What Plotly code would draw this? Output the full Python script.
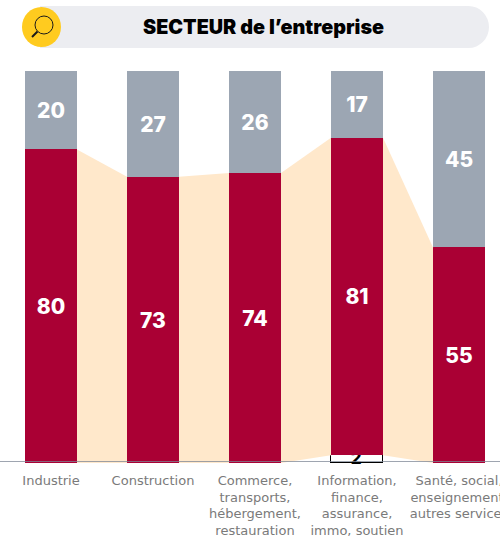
import plotly.graph_objects as go

categories = ["Industrie", "Construction", "Commerce,<br>transports,<br>hébergement,<br>restauration",
              "Information,<br>finance,<br>assurance,<br>immo, soutien", "Santé, social,<br>enseignement,<br>autres services"]
base_values = [0, 0, 0, 2, 0]
red_values = [80, 73, 74, 81, 55]
grey_values = [20, 27, 26, 17, 45]
title_text = "SECTEUR de l’entreprise"

RED = "#AA0034"; GREY = "#9CA6B3"; BAND = "#FFE8CB"
FONT = "Inter"
bw = 52 / 102
xs = list(range(len(categories)))
tops = [b + r for b, r in zip(base_values, red_values)]

white_font = dict(family=FONT, size=21, color="white", weight=800)
bar_text = dict(textposition="inside", insidetextanchor="middle", textangle=0, constraintext="none", cliponaxis=False)

fig = go.Figure()
for i in xs[:-1]:
    fig.add_trace(go.Scatter(
        x=[i + bw / 2, i + 1 - bw / 2, i + 1 - bw / 2, i + bw / 2],
        y=[tops[i], tops[i + 1], base_values[i + 1], base_values[i]],
        fill="toself", fillcolor=BAND, mode="none", hoverinfo="skip", showlegend=False))
fig.add_trace(go.Bar(x=xs, y=base_values, marker=dict(color="white", line=dict(color="black", width=[0, 0, 0, 1.5, 0])), width=bw,
                     text=[str(v) if v else "" for v in base_values], insidetextfont=dict(family=FONT, size=17, color="black", weight=800), showlegend=False, **bar_text))
fig.add_trace(go.Bar(x=xs, y=red_values, marker=dict(color=RED, line_width=0), width=bw,
                     text=[str(v) for v in red_values], insidetextfont=white_font, showlegend=False, **bar_text))
fig.add_trace(go.Bar(x=xs, y=grey_values, marker=dict(color=GREY, line_width=0), width=bw,
                     text=[str(v) for v in grey_values], insidetextfont=white_font, showlegend=False, **bar_text))

def py(v):
    return 1 - v / 540

shapes = [
    dict(type="rect", xref="paper", yref="paper", x0=40 / 500, x1=469 / 500, y0=py(48), y1=py(6), fillcolor="#ECEDF1", line_width=0, layer="below"),
    dict(type="circle", xref="paper", yref="paper", x0=448 / 500, x1=489 / 500, y0=py(48), y1=py(6), fillcolor="#ECEDF1", line_width=0, layer="below"),
    dict(type="circle", xref="paper", yref="paper", x0=22 / 500, x1=61 / 500, y0=py(47), y1=py(7), fillcolor="#FFCB1F", line_width=0),
    dict(type="circle", xref="paper", yref="paper", x0=35 / 500, x1=53 / 500, y0=py(34), y1=py(16), line=dict(color="#1a1a1a", width=1)),
    dict(type="line", xref="paper", yref="paper", x0=32 / 500, x1=37.5 / 500, y0=py(37), y1=py(31.5), line=dict(color="#1a1a1a", width=2)),
    dict(type="line", xref="paper", yref="paper", x0=0, x1=1, y0=py(461.5), y1=py(461.5), line=dict(color="rgba(125,135,150,0.75)", width=1), layer="above"),
]

fig.update_layout(
    width=500, height=540, margin=dict(l=0, r=0, t=0, b=0, autoexpand=False),
    paper_bgcolor="white", plot_bgcolor="white", barmode="stack", bargap=0,
    shapes=shapes, showlegend=False,
    annotations=[dict(text=title_text, xref="paper", yref="paper", x=263.5 / 500, y=py(27), showarrow=False,
                      xanchor="center", yanchor="middle",
                      font=dict(family=FONT, size=19.8, color="black", weight=900))],
    xaxis=dict(range=[-0.5, 4.402], tickmode="array", tickvals=xs, ticktext=categories, showgrid=False, zeroline=False,
               showline=False, ticks="outside", ticklen=5, tickcolor="rgba(0,0,0,0)", tickangle=0,
               ticklabeloverflow="allow", automargin=False,
               tickfont=dict(family="DejaVu Sans", size=13, color="#7a7a7a")),
    yaxis=dict(domain=[py(463), py(71)], range=[0, 100], visible=False),
)
fig.write_html("out.html", config=dict(displayModeBar=False),
               post_script="document.body.style.margin='0';document.body.style.overflow='hidden';")
